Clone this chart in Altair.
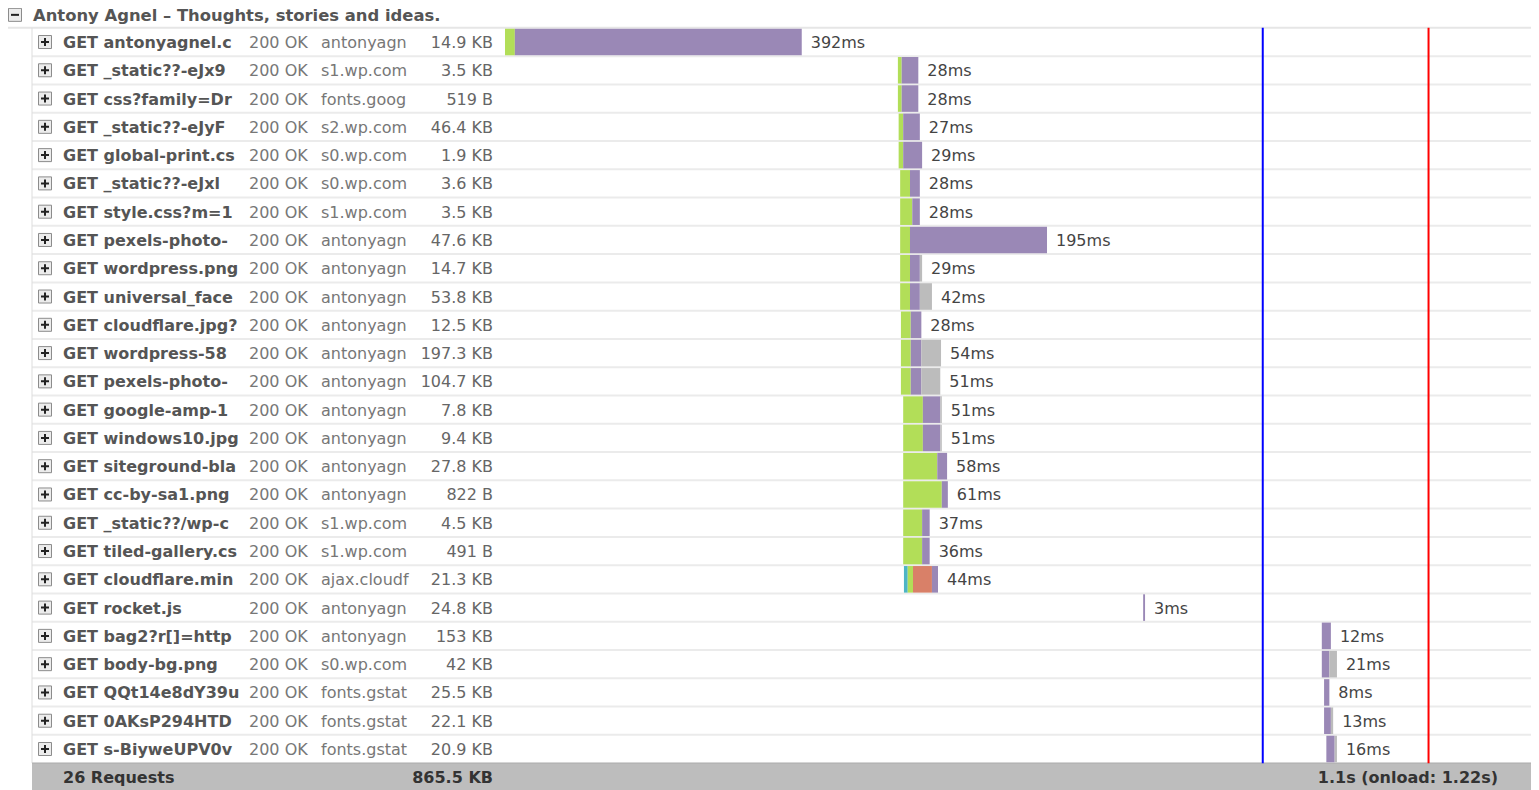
import altair as alt
import pandas as pd

# ---------------- data ----------------
title_text = "Antony Agnel – Thoughts, stories and ideas."
names = [
    "GET antonyagnel.c", "GET _static??-eJx9", "GET css?family=Dr", "GET _static??-eJyF",
    "GET global-print.cs", "GET _static??-eJxl", "GET style.css?m=1", "GET pexels-photo-",
    "GET wordpress.png", "GET universal_face", "GET cloudflare.jpg?", "GET wordpress-58",
    "GET pexels-photo-", "GET google-amp-1", "GET windows10.jpg", "GET siteground-bla",
    "GET cc-by-sa1.png", "GET _static??/wp-c", "GET tiled-gallery.cs", "GET cloudflare.min",
    "GET rocket.js", "GET bag2?r[]=http", "GET body-bg.png", "GET QQt14e8dY39u",
    "GET 0AKsP294HTD", "GET s-BiyweUPV0v",
]
statuses = ["200 OK"] * 26
domains = [
    "antonyagnel.com", "s1.wp.com", "fonts.googleapis.com", "s2.wp.com", "s0.wp.com",
    "s0.wp.com", "s1.wp.com", "antonyagnel.com", "antonyagnel.com", "antonyagnel.com",
    "antonyagnel.com", "antonyagnel.com", "antonyagnel.com", "antonyagnel.com",
    "antonyagnel.com", "antonyagnel.com", "antonyagnel.com", "s1.wp.com", "s1.wp.com",
    "ajax.cloudflare.com", "antonyagnel.com", "antonyagnel.com", "s0.wp.com",
    "fonts.gstatic.com", "fonts.gstatic.com", "fonts.gstatic.com",
]
sizes = [
    "14.9 KB", "3.5 KB", "519 B", "46.4 KB", "1.9 KB", "3.6 KB", "3.5 KB", "47.6 KB",
    "14.7 KB", "53.8 KB", "12.5 KB", "197.3 KB", "104.7 KB", "7.8 KB", "9.4 KB", "27.8 KB",
    "822 B", "4.5 KB", "491 B", "21.3 KB", "24.8 KB", "153 KB", "42 KB", "25.5 KB",
    "22.1 KB", "20.9 KB",
]
durations = [
    "392ms", "28ms", "28ms", "27ms", "29ms", "28ms", "28ms", "195ms", "29ms", "42ms",
    "28ms", "54ms", "51ms", "51ms", "51ms", "58ms", "61ms", "37ms", "36ms", "44ms",
    "3ms", "12ms", "21ms", "8ms", "13ms", "16ms",
]
# timing phases (ms)
start_ms = [0, 519, 519, 520, 520, 522, 522, 522, 522, 522, 523, 523, 523,
            526, 526, 526, 526, 526, 526, 527, 843, 1079, 1079, 1082, 1082, 1085]
dns_ms = [0] * 19 + [5] + [0] * 6
blocked_ms = [13, 5, 5, 6, 6, 13, 16, 13, 13, 13, 13, 13, 13,
              26, 26, 45, 51, 25, 25, 7, 0, 0, 0, 0, 0, 0]
connect_ms = [0] * 19 + [25] + [0] * 6
wait_ms = [379, 22, 22, 22, 25, 13, 10, 181, 13, 13, 14, 14, 14,
           23, 23, 13, 8, 10, 10, 8, 2.5, 12, 10, 7, 9, 11]
receive_ms = [0, 0, 0, 0, 0, 0, 0, 0, 3, 16, 0, 26, 25,
              2, 2, 0, 0, 0, 0, 0, 0, 0, 10, 0, 3, 3]
phase_names = ["DNS", "Blocked", "Connect", "Waiting", "Receiving"]
phase_colors = ["#4db5c5", "#b2de58", "#d98068", "#9a88b6", "#bcbcbc"]

footer_requests = "26 Requests"
footer_size = "865.5 KB"
footer_time = "1.1s (onload: 1.22s)"
event_names = ["DOMContentLoaded", "load"]
event_ms = [1001, 1220]
event_colors = ["#0000ff", "#ff0000"]

# ---------------- layout constants ----------------
W, H = 1523, 782
PX_PER_MS = 0.757
T0_X = 497          # chart x of t = 0
ROW_PX = 28.28
FIRST_ROW_Y = 34
x_dom = [-T0_X / PX_PER_MS, (W - T0_X) / PX_PER_MS]
y_dom = [1 - FIRST_ROW_Y / ROW_PX, 1 + (H - FIRST_ROW_Y) / ROW_PX]
FONT = "DejaVu Sans"

# ---------------- tables ----------------
n = len(names)
seg_rows = []
ends = []
for i in range(n):
    cur = start_ms[i]
    for ph, arr in zip(phase_names, [dns_ms, blocked_ms, connect_ms, wait_ms, receive_ms]):
        d = arr[i]
        if d > 0:
            seg_rows.append({"row": i + 1, "phase": ph, "t0": cur, "t1": cur + d,
                             "ya": i + 1 - 0.47, "yb": i + 1 + 0.47})
            cur += d
    ends.append(cur)
segs = pd.DataFrame(seg_rows)

rows = pd.DataFrame({
    "row": list(range(1, n + 1)), "name": names, "status": statuses,
    "domain": domains, "size": sizes, "label": durations, "end": ends,
})
seps = pd.DataFrame({"y": [r + 0.5 for r in range(1, n + 1)]})
head = pd.DataFrame({"y": [0.04], "sep": [0.5], "txt": [title_text]})
body = pd.DataFrame({"y0": [0.5], "y1": [n + 0.5], "yb": [y_dom[1]]})
foot = pd.DataFrame({"y": [n + 1] * 3, "txt": [footer_requests, footer_size, footer_time]})
events = pd.DataFrame({"ev": event_names, "t": event_ms, "y0": [0.5] * 2, "y1": [n + 0.5] * 2})

xs = alt.Scale(domain=x_dom, nice=False, zero=False)
ys = alt.Scale(domain=y_dom, nice=False, zero=False, reverse=True)
def X(f):
    return alt.X(f, scale=xs, axis=None)
def Y(f):
    return alt.Y(f, scale=ys, axis=None)

base_rows = alt.Chart(rows)

row_seps = alt.Chart(seps).mark_rule(color="#ebebeb", strokeWidth=2).encode(
    y=Y("y:Q"), x=alt.value(24), x2=alt.value(W))
head_sep = alt.Chart(head).mark_rule(color="#e6e6e6", strokeWidth=2).encode(
    y=Y("sep:Q"), x=alt.value(0), x2=alt.value(W))
left_line = alt.Chart(body).mark_rule(color="#dddddd", strokeWidth=1).encode(
    x=alt.value(24), y=Y("y0:Q"), y2="y1:Q")

footer_bg = alt.Chart(body).mark_rect(color="#bdbdbd").encode(
    x=alt.value(24), x2=alt.value(W), y=Y("y1:Q"), y2="yb:Q")
footer_top = alt.Chart(body).mark_rule(color="#a8a8a8", strokeWidth=1).encode(
    x=alt.value(24), x2=alt.value(W), y=Y("y1:Q"))

bars = alt.Chart(segs).mark_rect().encode(
    x=X("t0:Q"), x2="t1:Q", y=Y("ya:Q"), y2="yb:Q",
    color=alt.Color("phase:N", scale=alt.Scale(domain=phase_names, range=phase_colors),
                    legend=None))

vlines = alt.Chart(events).mark_rule(strokeWidth=2).encode(
    x=X("t:Q"), y=Y("y0:Q"), y2="y1:Q",
    stroke=alt.Stroke("ev:N", scale=alt.Scale(domain=event_names, range=event_colors),
                      legend=None))

dur_text = base_rows.mark_text(align="left", baseline="middle", dx=9, dy=1, font=FONT,
                               fontSize=16, color="#444444").encode(
    x=X("end:Q"), y=Y("row:Q"), text="label:N")

name_text = base_rows.mark_text(align="left", baseline="middle", dy=1, font=FONT, fontSize=16,
                                fontWeight="bold", color="#555555", limit=178,
                                ellipsis=" ").encode(
    x=alt.value(55), y=Y("row:Q"), text="name:N")
status_text = base_rows.mark_text(align="left", baseline="middle", dy=1, font=FONT,
                                  fontSize=16, color="#777777").encode(
    x=alt.value(241), y=Y("row:Q"), text="status:N")
domain_text = base_rows.mark_text(align="left", baseline="middle", dy=1, font=FONT,
                                  fontSize=16, color="#777777", limit=93,
                                  ellipsis=" ").encode(
    x=alt.value(313), y=Y("row:Q"), text="domain:N")
size_text = base_rows.mark_text(align="right", baseline="middle", dy=1, font=FONT,
                                fontSize=16, color="#666666").encode(
    x=alt.value(485), y=Y("row:Q"), text="size:N")

plus_box = base_rows.mark_square(size=169, fill="#ececec", stroke="#8c8c8c",
                                 strokeWidth=1, opacity=1).encode(
    x=alt.value(37), y=Y("row:Q"))
plus_sign = base_rows.mark_point(shape="M-1,0H1M0,-1V1", size=64, filled=False,
                                 color="#222222", strokeWidth=2, opacity=1).encode(
    x=alt.value(37), y=Y("row:Q"))

minus_box = alt.Chart(head).mark_square(size=169, fill="#ececec", stroke="#8c8c8c",
                                        strokeWidth=1, opacity=1).encode(
    x=alt.value(7), y=Y("y:Q"))
minus_sign = alt.Chart(head).mark_point(shape="M-1,0H1", size=64, filled=False,
                                        color="#222222", strokeWidth=2, opacity=1).encode(
    x=alt.value(7), y=Y("y:Q"))
title_mark = alt.Chart(head).mark_text(align="left", baseline="middle", dy=1, font=FONT,
                                       fontSize=16.4, fontWeight="bold",
                                       color="#555555").encode(
    x=alt.value(25), y=Y("y:Q"), text="txt:N")

foot_base = alt.Chart(foot)
f1 = foot_base.transform_filter(alt.datum.txt == footer_requests).mark_text(
    align="left", baseline="middle", dy=1, font=FONT, fontSize=16, fontWeight="bold",
    color="#333333").encode(x=alt.value(55), y=Y("y:Q"), text="txt:N")
f2 = foot_base.transform_filter(alt.datum.txt == footer_size).mark_text(
    align="right", baseline="middle", dy=1, font=FONT, fontSize=16, fontWeight="bold",
    color="#333333").encode(x=alt.value(485), y=Y("y:Q"), text="txt:N")
f3 = foot_base.transform_filter(alt.datum.txt == footer_time).mark_text(
    align="right", baseline="middle", dy=1, font=FONT, fontSize=16, fontWeight="bold",
    color="#333333").encode(x=alt.value(1490), y=Y("y:Q"), text="txt:N")

chart = alt.layer(
    head_sep, row_seps, left_line, footer_bg, footer_top, bars, vlines, dur_text,
    plus_box, plus_sign, name_text, status_text, domain_text, size_text,
    minus_box, minus_sign, title_mark, f1, f2, f3,
).resolve_scale(color="independent").properties(
    width=W, height=H, padding=0, background="white",
    autosize=alt.AutoSizeParams(type="none"),
).configure_view(stroke=None)

chart.save("out.html", embed_options={"renderer": "svg", "actions": False})
